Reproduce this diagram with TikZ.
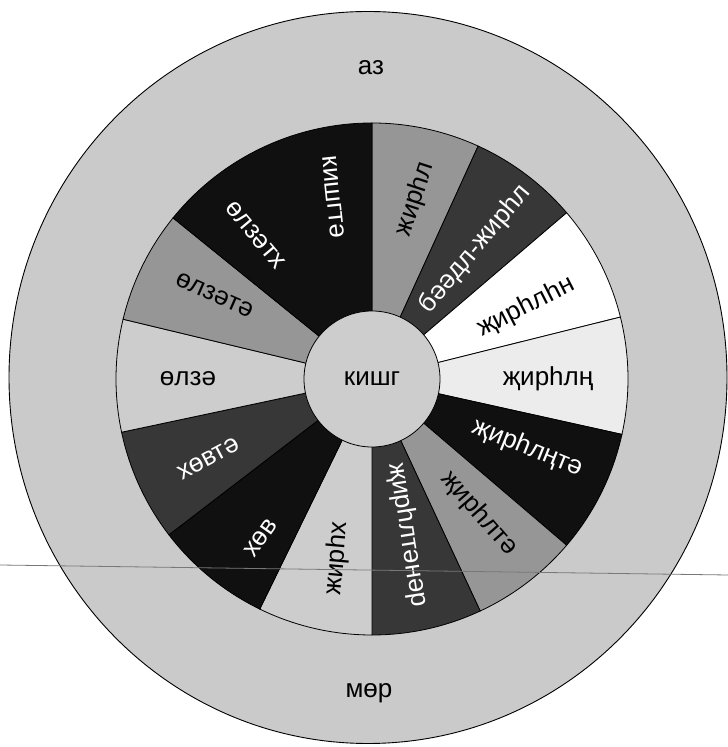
\documentclass[tikz,border=0pt]{standalone}
\usepackage{fontspec}
\setmainfont{Liberation Sans}
\usetikzlibrary{calc}
\definecolor{WheelBlack}{RGB}{16,16,16}
\definecolor{WheelDark}{RGB}{55,55,55}
\definecolor{WheelMid}{RGB}{150,150,150}
\definecolor{WheelLight}{RGB}{205,205,205}
\definecolor{WheelPale}{RGB}{236,236,236}
\definecolor{WheelRim}{RGB}{202,202,202}
\definecolor{ScanGray}{RGB}{120,120,120}
\tikzset{
  wheel/sector/.style={draw=black, line width=0.8pt},
  wheel/darktext/.style={text=white, inner sep=0pt, font=\fontsize{26}{28}\selectfont},
  wheel/lighttext/.style={text=black, inner sep=0pt, font=\fontsize{26}{28}\selectfont},
  wheel/hub/.style={circle, draw=black, line width=0.8pt, fill=WheelLight,
    minimum size=136pt, inner sep=0pt, font=\fontsize{26}{28}\selectfont}
}

\begin{document}
\begin{tikzpicture}[x=1pt,y=1pt]
  \useasboundingbox (0,0) rectangle (728,747);
  \filldraw[fill=WheelRim, draw=black, line width=0.9pt] (368,369.5) ellipse[x radius=359, y radius=366];
  \coordinate (mid) at (372,368);

  % wheel segments, clockwise from the top
  \filldraw[wheel/sector, fill=WheelMid]   (mid) -- ++(65.5:256) arc[start angle=65.5, end angle=90, radius=256] -- cycle;
  \filldraw[wheel/sector, fill=WheelDark]  (mid) -- ++(40.5:256) arc[start angle=40.5, end angle=65.5, radius=256] -- cycle;
  \filldraw[wheel/sector, fill=white]      (mid) -- ++(14:256) arc[start angle=14, end angle=40.5, radius=256] -- cycle;
  \filldraw[wheel/sector, fill=WheelPale]  (mid) -- ++(-12.5:256) arc[start angle=-12.5, end angle=14, radius=256] -- cycle;
  \filldraw[wheel/sector, fill=WheelBlack] (mid) -- ++(-40.5:256) arc[start angle=-40.5, end angle=-12.5, radius=256] -- cycle;
  \filldraw[wheel/sector, fill=WheelMid]   (mid) -- ++(-65:256) arc[start angle=-65, end angle=-40.5, radius=256] -- cycle;
  \filldraw[wheel/sector, fill=WheelDark]  (mid) -- ++(-90:256) arc[start angle=-90, end angle=-65, radius=256] -- cycle;
  \filldraw[wheel/sector, fill=WheelLight] (mid) -- ++(-116:256) arc[start angle=-116, end angle=-90, radius=256] -- cycle;
  \filldraw[wheel/sector, fill=WheelBlack] (mid) -- ++(-142.5:256) arc[start angle=-142.5, end angle=-116, radius=256] -- cycle;
  \filldraw[wheel/sector, fill=WheelDark]  (mid) -- ++(-168:256) arc[start angle=-168, end angle=-142.5, radius=256] -- cycle;
  \filldraw[wheel/sector, fill=WheelLight] (mid) -- ++(166.5:256) arc[start angle=166.5, end angle=192, radius=256] -- cycle;
  \filldraw[wheel/sector, fill=WheelMid]   (mid) -- ++(141:256) arc[start angle=141, end angle=166.5, radius=256] -- cycle;
  \filldraw[wheel/sector, fill=WheelBlack] (mid) -- ++(90:256) arc[start angle=90, end angle=141, radius=256] -- cycle;

  \node[wheel/lighttext, rotate=72]  (zhirgl)    at ($(mid)+(76.5:185)$)  {жирһл};
  \node[wheel/darktext, rotate=50]   (baadl)     at ($(mid)+(51.5:166)$)  {бәәдл-жирһл};
  \node[wheel/lighttext, rotate=27]  (zhirglgn)  at ($(mid)+(25:170)$)    {җирһлһн};
  \node[wheel/lighttext]             (zhirgln)   at ($(mid)+(0:176)$)     {җирһлң};
  \node[wheel/darktext, rotate=-22]  (zhirglnta) at ($(mid)+(-24:170)$)   {җирһлңтә};
  \node[wheel/lighttext, rotate=-49] (zhirglta)  at ($(mid)+(-51.5:172)$) {җирһлтә};
  \node[wheel/darktext, rotate=-81]  (zhirgltnr) at ($(mid)+(-77:160)$)   {җирһлтәнәр};
  \node[wheel/lighttext, rotate=85]  (zhirgh)    at ($(mid)+(-101:183)$)  {жирһх};
  \node[wheel/darktext, rotate=55]   (khov)      at ($(mid)+(-125:194)$)  {хөв};
  \node[wheel/darktext, rotate=28]   (khovta)    at ($(mid)+(-154:182)$)  {хөвтә};
  \node[wheel/lighttext]             (olza)      at ($(mid)+(180:184)$)   {өлзә};
  \node[wheel/lighttext, rotate=-24] (olzata)    at ($(mid)+(152:178)$)   {өлзәтә};
  \node[wheel/darktext, rotate=-50]  (olzatkh)   at ($(mid)+(129:185)$)   {өлзәтх};
  \node[wheel/darktext, rotate=-84]  (kishgta)   at ($(mid)+(102:186)$)   {кишгтә};

  \node[wheel/hub] (kishg) at (mid) {кишг};
  \node[wheel/lighttext] (az)  at (371,679) {аз};
  \node[wheel/lighttext] (mor) at (369,54)  {мөр};

  % scan line across the page
  \draw[ScanGray, line width=0.8pt] (0,182) -- (728,172);
\end{tikzpicture}
\end{document}
